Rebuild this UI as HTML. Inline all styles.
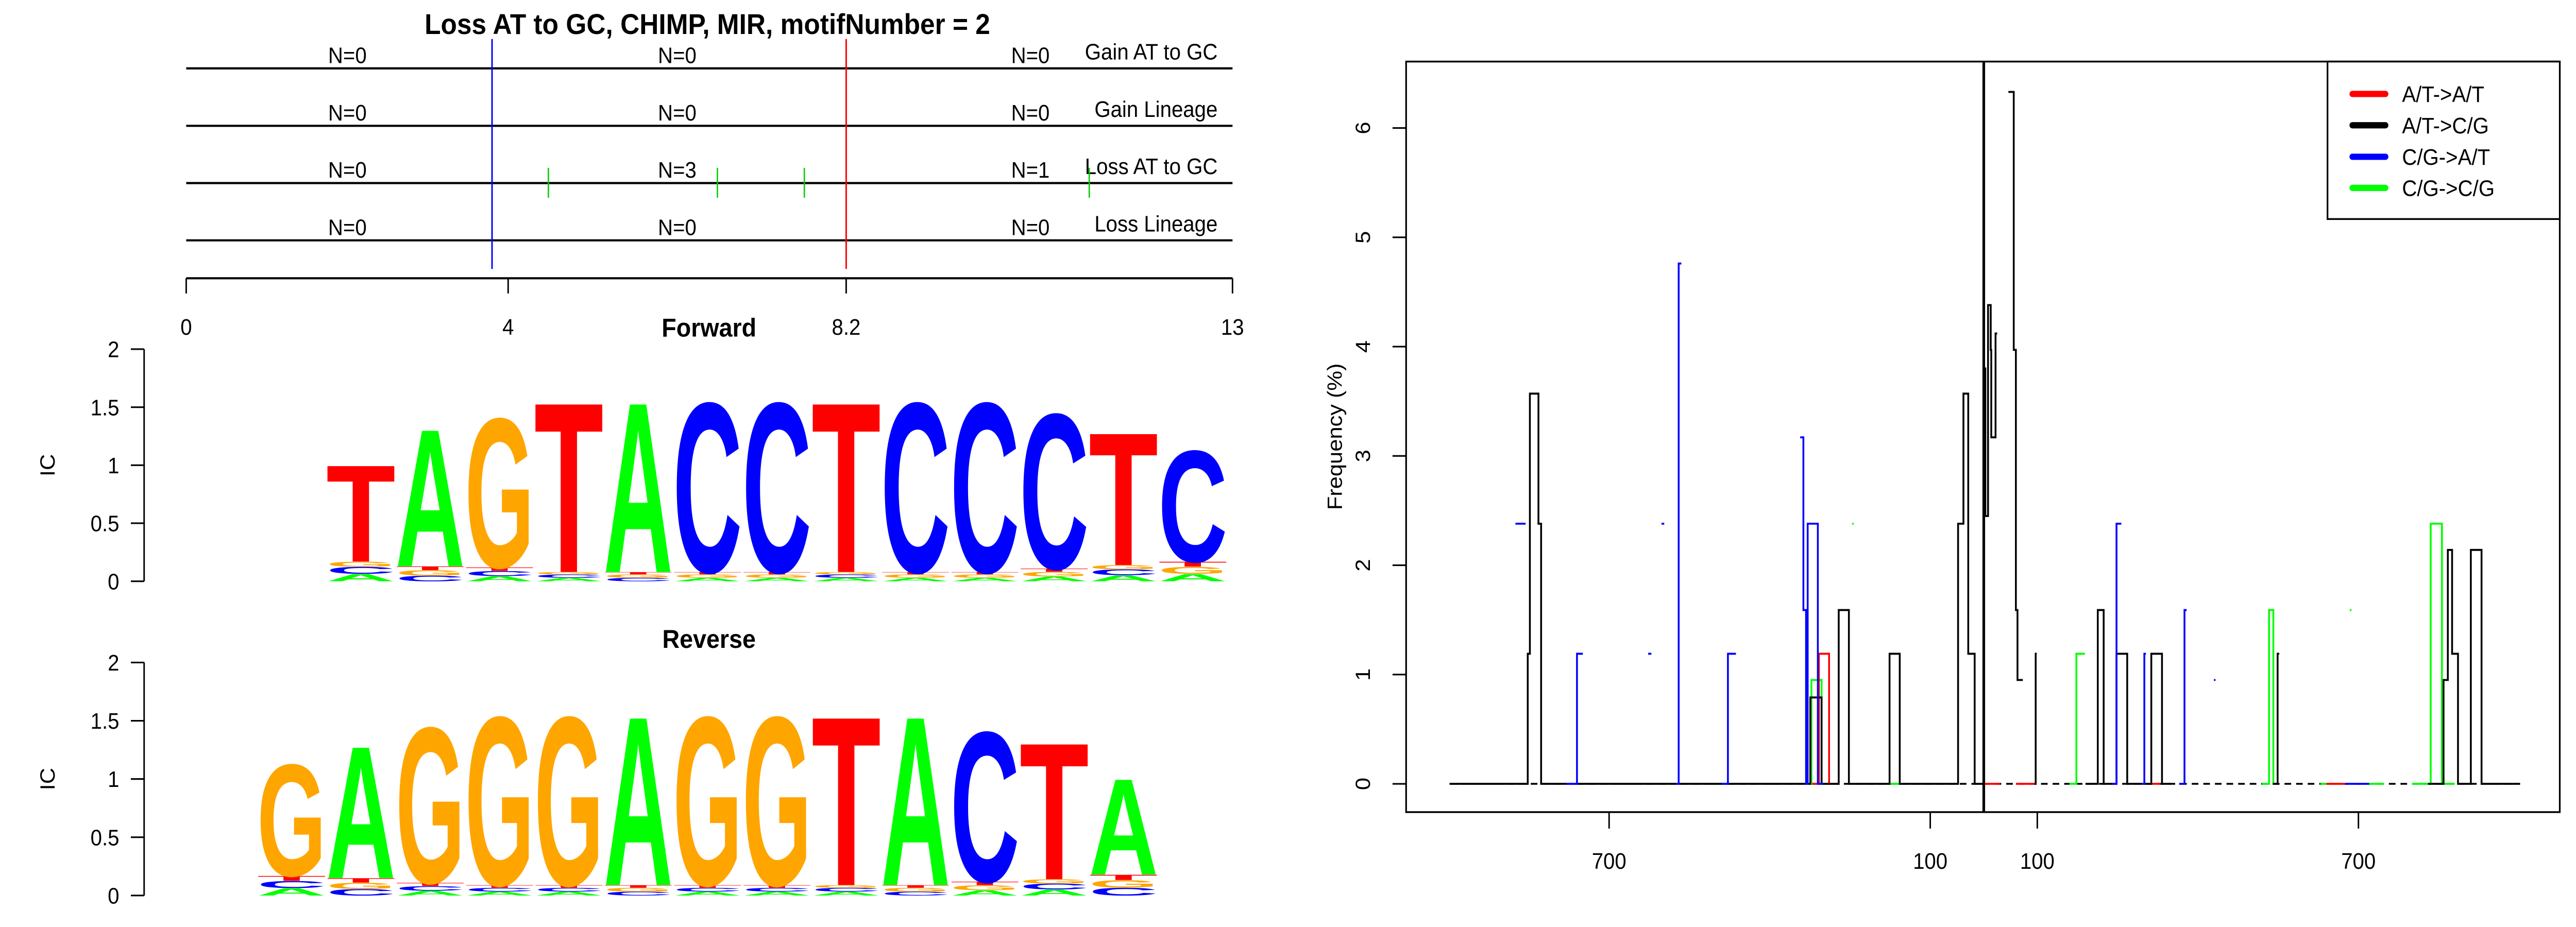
<!DOCTYPE html>
<html><head><meta charset="utf-8"><style>
html,body{margin:0;padding:0;background:#fff;width:100vw;height:100vh;overflow:hidden;}
svg{display:block;overflow:hidden;width:100vw;height:100vh;}
text{font-family:"Liberation Sans",sans-serif;}
</style></head><body>
<svg id="root" viewBox="0 0 1555 518" preserveAspectRatio="none" xmlns="http://www.w3.org/2000/svg">
<rect x="0" y="0" width="1555" height="518" fill="#fff"/>
<g id="left">
<text x="427" y="19" font-size="16" font-weight="bold" text-anchor="middle">Loss AT to GC, CHIMP, MIR, motifNumber = 2</text>
</g>
<g id="logos"></g>
<g id="right"></g>
</svg>
<script>
// ---------- top track data ----------
const trackNames = ["Gain AT to GC", "Gain Lineage", "Loss AT to GC", "Loss Lineage"];
const trackCounts = [["N=0","N=0","N=0"],["N=0","N=0","N=0"],["N=0","N=3","N=1"],["N=0","N=0","N=0"]];
const trackTicks = [0, 4, 8.2, 13];
const markerBlue = 3.8;
const markerRed = 8.2;
const lossMarks = [4.5, 6.6, 7.68, 11.22];

// ---------- logo data (IC heights) ----------
const fwdLetters = ["T","A","G","T","A","C","C","T","C","C","C","T","C"];
const fwdTop = [1.03,1.35,1.45,1.59,1.59,1.59,1.59,1.59,1.59,1.59,1.49,1.32,1.16];
const fwdBase = [0.17,0.13,0.12,0.08,0.08,0.08,0.08,0.08,0.08,0.08,0.11,0.14,0.17];
const revLetters = ["G","A","G","G","G","A","G","G","T","A","C","T","A"];
const revTop = [1.16,1.32,1.49,1.585,1.585,1.585,1.585,1.585,1.585,1.585,1.45,1.35,1.03];
const revBase = [0.17,0.15,0.11,0.09,0.09,0.09,0.09,0.09,0.09,0.09,0.12,0.14,0.18];
const icTicks = [0,0.5,1,1.5,2];
const icLabels = ["0","0.5","1","1.5","2"];

// ---------- frequency chart data ----------
const freqTicks = [-700,-100,100,700];
const freqTickLabels = ["700","100","100","700"];
const yTicks = [0,1,2,3,4,5,6];
const seriesNames = ["A/T->A/T","A/T->C/G","C/G->A/T","C/G->C/G"];
const seriesColors = ["#ff0000","#000000","#0000ff","#00ff00"];
const redSegs = [[-320,-308,0],[-308,-289,1.19],[-289,-270,0],[0,30,0],[60,95,0],[300,330,0],[640,680,0]];
const blackSegs = [[-998,-852,0],[-852,-848,1.19],[-848,-832,3.57],[-832,-827,2.38],[-827,-324,0],[-324,-303,0.79],[-303,-271,0],[-271,-252,1.59],[-252,-176,0],[-176,-157,1.19],[-157,-48,0],[-48,-38,2.38],[-38,-29,3.57],[-29,-17,1.19],[-17,0,0],
 [0,3,3.8],[3,8,2.45],[8,13,4.38],[13,14,3.97],[14,22,3.17],[22,25,4.12],
 [46,56,6.33],[56,60,3.97],[60,63,1.59],[63,73,0.95],
 [95,97,0],[97,99,1.19],
 [190,213,0],[213,224,1.59],[224,248,0],[248,268,1.19],[268,313,0],[313,333,1.19],[333,350,0],
 [540,549,0],[549,552,1.19],
 [830,859,0],[859,867,0.95],[867,875,2.14],[875,886,1.19],[886,910,0],[910,930,2.14],[930,1002,0]];
const blueSegs = [[-875,-856,2.38],[-780,-760,0],[-760,-749,1.19],[-627,-621,1.19],[-602,-597,2.38],[-575,-570,0],[-570,-565,4.76],[-490,-478,0],[-478,-463,1.19],
 [-343,-337,3.17],[-337,-332,1.59],[-332,-329,0],[-329,-310,2.38],[-310,-300,0],[240,248,0],[248,257,2.38],[295,300,0],[300,303,1.19],[365,375,0],[375,379,1.59],[430,433,0.95],[675,720,0]];
const greenSegs = [[-998,-982,0],[-963,-900,0],[-697,-649,0],[-506,-463,0],[-410,-390,0],[-330,-322,0],[-322,-303,0.95],[-303,-295,0],[-246,-243,2.38],[-180,-150,0],[-10,0,0],[160,173,0],[173,189,1.19],[520,533,0],[533,541,1.59],[541,545,0],[629,668,0],[684,687,1.59],[708,748,0],[800,835,0],[835,856,2.38],[856,880,0],[938,962,0]];

const NS = "http://www.w3.org/2000/svg";
function mk(parent, tag, attrs, txt){
  const e = document.createElementNS(NS, tag);
  for (const k in attrs) e.setAttribute(k, attrs[k]);
  if (txt !== undefined) e.textContent = txt;
  parent.appendChild(e);
  return e;
}

// ---------- top tracks ----------
(function(){
  const g = document.getElementById('left');
  const x0 = 112.4, x1 = 744;
  const px = p => x0 + p * (x1 - x0) / 13;
  const rowY = [38.2, 70.3, 102.3, 134.3];
  const nX = [209.7, 408.8, 622];
  trackNames.forEach((name, i) => {
    const ln = mk(g, 'line', {x1:x0, x2:x1, y1:rowY[i], y2:rowY[i], stroke:'#000', 'stroke-width':1.2});
    
    
    const t = mk(g, 'text', {x:735, y:rowY[i]-5, 'font-size':12.5, 'text-anchor':'end'}, name);
    
    
    trackCounts[i].forEach((c, j) => {
      const n = mk(g, 'text', {x:nX[j], y:rowY[i]-3, 'font-size':12.5, 'text-anchor':'middle'}, c);
      
      
    });
  });
  lossMarks.forEach(p => {
    const m = mk(g, 'line', {x1:px(p), x2:px(p), y1:93.8, y2:110.5, stroke:'#00cc00', 'stroke-width':0.8});
    
    
  });
  const bl = mk(g, 'line', {x1:px(markerBlue), x2:px(markerBlue), y1:21.8, y2:150.3, stroke:'#0000ff', 'stroke-width':0.9});
  
  
  const rl = mk(g, 'line', {x1:px(markerRed), x2:px(markerRed), y1:21.8, y2:150.3, stroke:'#ff0000', 'stroke-width':0.9});
  
  
  const ax = mk(g, 'line', {x1:x0, x2:x1, y1:155.5, y2:155.5, stroke:'#000', 'stroke-width':1.2});
  
  
  trackTicks.forEach(v => {
    const tk = mk(g, 'line', {x1:px(v), x2:px(v), y1:155.5, y2:164, stroke:'#000', 'stroke-width':0.9});
    
    
    const tl = mk(g, 'text', {x:px(v), y:187, 'font-size':12.5, 'text-anchor':'middle'}, String(v));
    
    
  });
})();

// ---------- logos ----------
(function(){
  const g = document.getElementById('logos');
  const colors = {A:'#00ff00', C:'#0000ff', G:'#ffa500', T:'#ff0000'};
  const colW = 41.85;
  function drawLetter(par, ch, x, yBot, h, w){
    if (h <= 0.2) return;
    const grp = mk(par, 'g', {transform:`translate(${x},${yBot}) scale(1,${h/72})`});
    
    
    mk(grp, 'text', {x:0, y:0, 'font-size':100, 'font-weight':'bold', fill:colors[ch], textLength:w, lengthAdjust:'spacingAndGlyphs'}, ch);
  }
  function logo(title, titleY, y2, y0, letters, tops, bases, startX){
    const unit = (y0 - y2) / 2;
    const py = v => y0 - v * unit;
    const tt = mk(g, 'text', {x:428, y:titleY, 'font-size':14.5, 'font-weight':'bold', 'text-anchor':'middle'}, title);
    
    
    const ax = mk(g, 'line', {x1:87, x2:87, y1:py(2), y2:py(0), stroke:'#000', 'stroke-width':0.9});
    
    
    icTicks.forEach((v, i) => {
      const tk = mk(g, 'line', {x1:79, x2:87, y1:py(v), y2:py(v), stroke:'#000', 'stroke-width':0.9});
      
      
      const tl = mk(g, 'text', {x:72, y:py(v)+4.5, 'font-size':12.5, 'text-anchor':'end'}, icLabels[i]);
      
      
    });
    const yl = mk(g, 'text', {x:0, y:0, 'font-size':12.5, 'text-anchor':'middle', transform:`translate(33,${(y0+y2)/2}) rotate(-90)`}, 'IC');
    
    
    letters.forEach((ch, i) => {
      const x = startX + i * colW;
      const b = bases[i];
      const others = ['A','C','G','T'].filter(c => c !== ch);
      const fr = [0.38, 0.36, 0.26];
      let acc = 0;
      others.forEach((o, k) => {
        const hh = b * fr[k];
        drawLetter(g, o, x, py(acc), hh * unit, colW);
        acc += hh;
      });
      drawLetter(g, ch, x, py(b), (tops[i] - b) * unit, colW);
    });
  }
  logo('Forward', 188, 195.1, 324.8, fwdLetters, fwdTop, fwdBase, 196.9);
  logo('Reverse', 362, 370.2, 500.4, revLetters, revTop, revBase, 155.1);
})();

// ---------- frequency chart ----------
(function(){
  const g = document.getElementById('right');
  const X = t => 1197.5 + 0.3231 * t;
  const Y = v => 438 - v * 61.08;
  const box = mk(g, 'rect', {x:848.8, y:34.4, width:696.4, height:419.4, fill:'none', stroke:'#000', 'stroke-width':1});
  
  
  yTicks.forEach(v => {
    const tk = mk(g, 'line', {x1:840.6, x2:848.8, y1:Y(v), y2:Y(v), stroke:'#000', 'stroke-width':0.9});
    
    
    const tl = mk(g, 'text', {x:0, y:0, 'font-size':12.5, 'text-anchor':'middle', transform:`translate(827,${Y(v)}) rotate(-90)`}, String(v));
    
    
  });
  freqTicks.forEach((t, i) => {
    const tk = mk(g, 'line', {x1:X(t), x2:X(t), y1:453.8, y2:463, stroke:'#000', 'stroke-width':0.9});
    
    
    const tl = mk(g, 'text', {x:X(t), y:485.5, 'font-size':12.5, 'text-anchor':'middle'}, freqTickLabels[i]);
    
    
  });
  const yt = mk(g, 'text', {x:0, y:0, 'font-size':12.5, 'text-anchor':'middle', transform:'translate(810,244) rotate(-90)'}, 'Frequency (%)');
  
  
  const base = mk(g, 'line', {x1:X(-998), x2:X(1002), y1:Y(0), y2:Y(0), stroke:'#000', 'stroke-width':1, 'stroke-dasharray':'4 3'});
  
  
  function drawSeries(segs, color, name){
    let d = '';
    let prev = null;
    segs.forEach(s => {
      if (prev && prev[1] === s[0]) {
        d += ` L${X(s[0])},${Y(s[2])} L${X(s[1])},${Y(s[2])}`;
      } else {
        d += ` M${X(s[0])},${Y(s[2])} L${X(s[1])},${Y(s[2])}`;
      }
      prev = s;
    });
    const p = mk(g, 'path', {d:d, fill:'none', stroke:color, 'stroke-width':1.1, 'stroke-linejoin':'miter'});
    
    
  }
  drawSeries(greenSegs, seriesColors[3], 'series-cg-to-cg');
  drawSeries(redSegs, seriesColors[0], 'series-at-to-at');
  drawSeries(blackSegs, seriesColors[1], 'series-at-to-cg');
  drawSeries(blueSegs, seriesColors[2], 'series-cg-to-at');
  const cl = mk(g, 'line', {x1:X(0), x2:X(0), y1:34.4, y2:453.8, stroke:'#000', 'stroke-width':1.6});
  
  
  const lg = mk(g, 'g', {});
  
  
  mk(lg, 'rect', {x:1405, y:34.4, width:140.2, height:88, fill:'#fff', stroke:'#000', 'stroke-width':1});
  const ly = [52.5, 70, 87.6, 105];
  seriesNames.forEach((n, i) => {
    const e = mk(lg, 'g', {});
    
    
    mk(e, 'line', {x1:1420, x2:1440, y1:ly[i], y2:ly[i], stroke:seriesColors[i], 'stroke-width':3.5, 'stroke-linecap':'round'});
    mk(e, 'text', {x:1450, y:ly[i]+4.5, 'font-size':12.5}, n);
  });
})();
</script>
</body></html>
